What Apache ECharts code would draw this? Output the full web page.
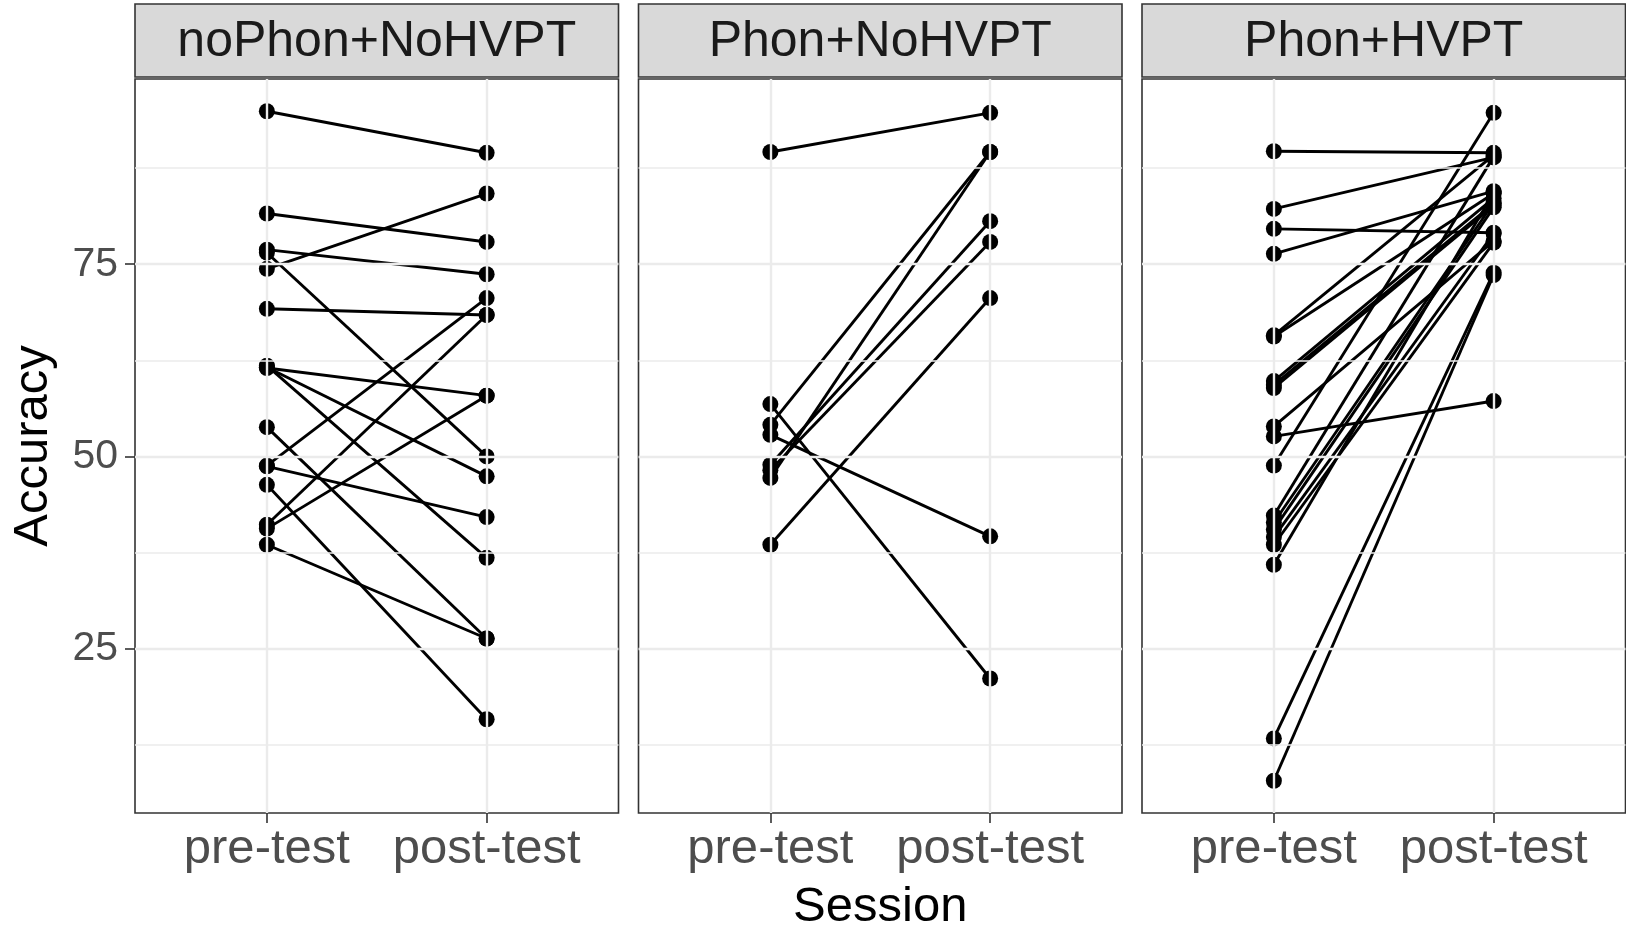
<!DOCTYPE html>
<html>
<head>
<meta charset="utf-8">
<script src="https://cdn.jsdelivr.net/npm/echarts@6/dist/echarts.min.js"></script>
<style>
  html, body { margin: 0; padding: 0; background: #fff; }
  #chart { width: 1626px; height: 927px; }
</style>
</head>
<body>
<div id="chart"></div>
<script>
// Sessions on the x axis and the three training groups (one facet each)
const sessions = ['pre-test', 'post-test'];
const groups = ['noPhon+NoHVPT', 'Phon+NoHVPT', 'Phon+HVPT'];
const accuracyTicks = [25, 50, 75];
const majorGrid = [25, 50, 75];
const minorGrid = [12.5, 37.5, 62.5, 87.5];

// Per-participant accuracy (%), pre-test and post-test, paired by index
const preNoPhonNoHVPT  = [94.9, 81.6, 76.9, 76.5, 74.4, 69.2, 61.5, 61.6, 61.8, 53.8, 48.8, 48.7, 46.3, 41.1, 40.6, 38.5];
const postNoPhonNoHVPT = [89.5, 77.9, 73.7, 50.0, 84.2, 68.4, 57.9, 47.4, 36.8, 26.3, 70.6, 42.1, 15.8, 68.4, 57.9, 26.3];

const prePhonNoHVPT  = [89.6, 56.8, 54.1, 52.8, 48.9, 48.2, 47.2, 38.5];
const postPhonNoHVPT = [94.7, 21.1, 89.6, 39.6, 80.6, 77.9, 89.6, 70.6];

const prePhonHVPT  = [89.7, 82.2, 79.6, 76.35, 65.75, 65.6, 59.8, 59.3, 58.9, 53.9, 52.6, 48.8, 42.3, 41.4, 40.5, 39.5, 38.5, 35.9, 13.3, 7.8];
const postPhonHVPT = [89.5, 88.9, 79.1, 84.5, 89.2, 84.2, 83.6, 82.9, 82.6, 78.0, 57.2, 94.7, 89.0, 83.0, 82.4, 79.0, 77.8, 84.3, 73.9, 73.6];

const preByGroup  = [preNoPhonNoHVPT, prePhonNoHVPT, prePhonHVPT];
const postByGroup = [postNoPhonNoHVPT, postPhonNoHVPT, postPhonHVPT];

// Facet geometry
const FONT = '"Liberation Sans", Arial, Helvetica, sans-serif';
const panel = { left: [135, 638.5, 1142], width: 483.5, top: 79, height: 734, stripTop: 4, stripHeight: 73 };
const yRange = { min: 3.6, max: 99.1 };
const xRange = { min: 0.4, max: 2.6 };
const sessionPos = sessions.map((s, i) => i + 1);

const grids = [], xAxes = [], yAxes = [], series = [], graphics = [];

groups.forEach((g, gi) => {
  const left = panel.left[gi];
  grids.push({
    left: left, top: panel.top, width: panel.width, height: panel.height,
    show: true, borderColor: '#333333', borderWidth: 1.6, backgroundColor: 'transparent',
    outerBoundsMode: 'none'
  });

  xAxes.push({
    type: 'value', gridIndex: gi, min: xRange.min, max: xRange.max,
    axisLine: { show: false },
    splitLine: { show: false },
    axisTick: { show: true, customValues: sessionPos, length: 10, lineStyle: { color: '#333333', width: 1.6 } },
    axisLabel: {
      show: true, customValues: sessionPos, margin: 12,
      formatter: v => sessions[Math.round(v) - 1] || '',
      fontFamily: FONT, fontSize: 49, color: '#4d4d4d'
    },
    name: gi === 1 ? 'Session' : '',
    nameLocation: 'middle', nameGap: 70,
    nameTextStyle: { fontFamily: FONT, fontSize: 49, color: '#000' }
  });

  yAxes.push({
    type: 'value', gridIndex: gi, min: yRange.min, max: yRange.max,
    axisLine: { show: false },
    splitLine: { show: false },
    axisTick: { show: gi === 0, customValues: accuracyTicks, length: 10, lineStyle: { color: '#333333', width: 1.6 } },
    axisLabel: {
      show: gi === 0, customValues: accuracyTicks, margin: 17,
      fontFamily: FONT, fontSize: 41, color: '#4d4d4d'
    },
    name: gi === 0 ? 'Accuracy' : '',
    nameLocation: 'middle', nameGap: 77,
    nameTextStyle: { fontFamily: FONT, fontSize: 49, color: '#000' }
  });

  // Background grid lines (major and minor) for the facet
  series.push({
    type: 'line', xAxisIndex: gi, yAxisIndex: gi, data: [], z: 1, silent: true,
    animation: false,
    markLine: {
      silent: true, symbol: ['none', 'none'], animation: false,
      label: { show: false },
      lineStyle: { color: '#ebebeb', type: 'solid', width: 2.4 },
      emphasis: { disabled: true },
      data: [
        ...minorGrid.map(v => ({ yAxis: v, lineStyle: { width: 1.6, color: '#ebebeb', type: 'solid' } })),
        ...majorGrid.map(v => ({ yAxis: v })),
        ...sessionPos.map(v => ({ xAxis: v }))
      ]
    }
  });

  // One line per participant, pre-test to post-test
  preByGroup[gi].forEach((pre, i) => {
    series.push({
      type: 'line', xAxisIndex: gi, yAxisIndex: gi, z: 3,
      data: [[sessionPos[0], pre], [sessionPos[1], postByGroup[gi][i]]],
      symbol: 'circle', symbolSize: 16, showSymbol: true,
      lineStyle: { color: '#000', width: 2.9 },
      itemStyle: { color: '#000' },
      emphasis: { disabled: true },
      silent: true, animation: false
    });
  });

  // Facet strip with the group name
  graphics.push({
    type: 'rect', z: 10,
    shape: { x: left, y: panel.stripTop, width: panel.width, height: panel.stripHeight },
    style: { fill: '#d9d9d9', stroke: '#333333', lineWidth: 1.6 }
  });
  graphics.push({
    type: 'text', z: 11,
    style: {
      text: g, x: left + panel.width / 2, y: panel.stripTop + panel.stripHeight / 2 + 2,
      align: 'center', verticalAlign: 'middle',
      font: '50px ' + FONT, fill: '#1a1a1a'
    }
  });
});

const chart = echarts.init(document.getElementById('chart'), null, { renderer: 'canvas' });
chart.setOption({
  backgroundColor: '#ffffff',
  animation: false,
  grid: grids,
  xAxis: xAxes,
  yAxis: yAxes,
  series: series,
  graphic: graphics
});
</script>
</body>
</html>
